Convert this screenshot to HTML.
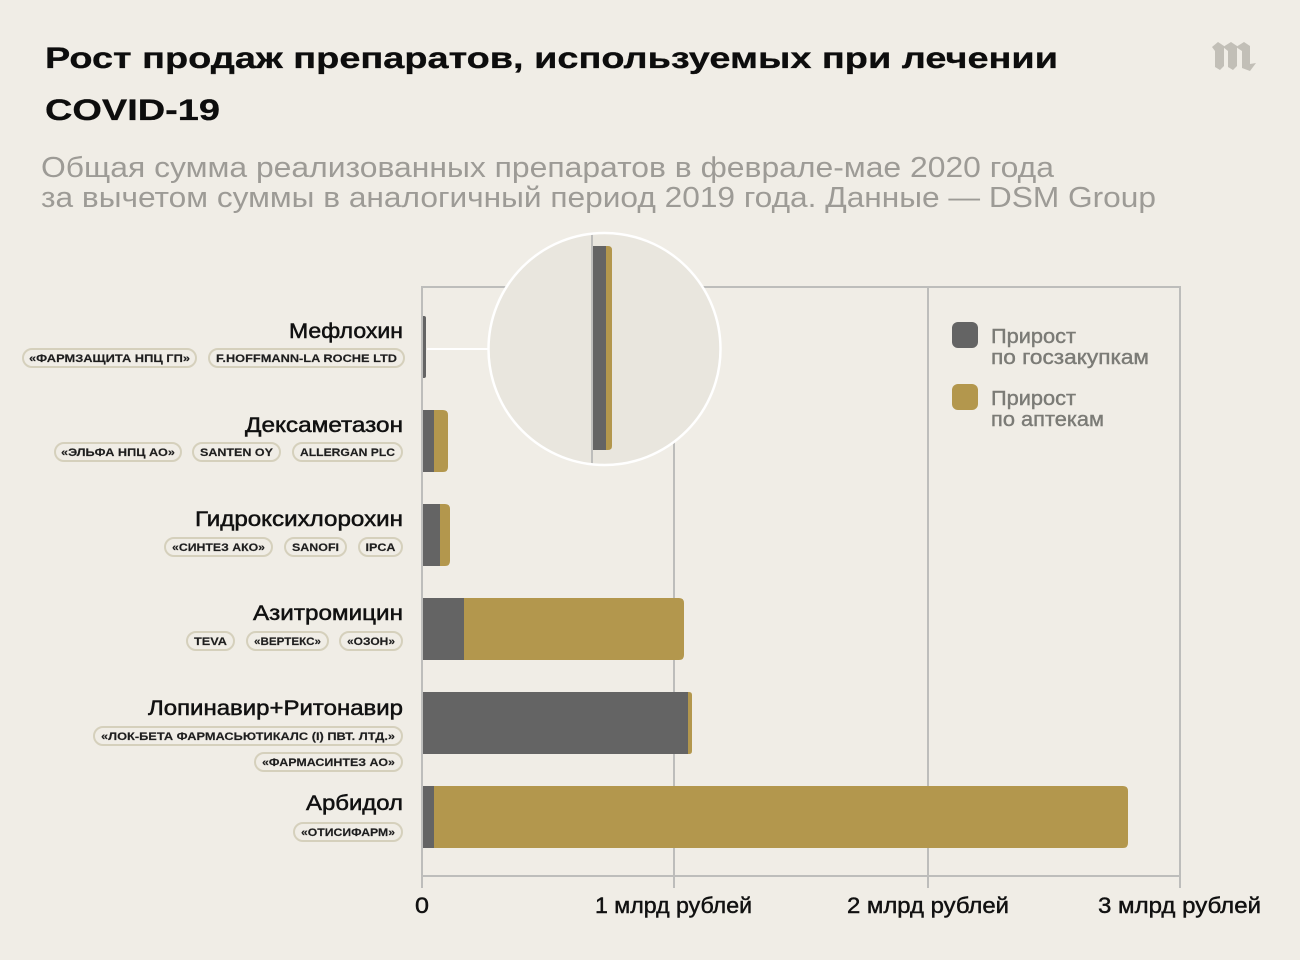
<!DOCTYPE html>
<html>
<head>
<meta charset="utf-8">
<style>
html,body{margin:0;padding:0;background:#f0ede6;}
svg{display:block;}
text{font-family:"Liberation Sans","DejaVu Sans",sans-serif;}
</style>
</head>
<body>
<svg width="1300" height="960" viewBox="0 0 1300 960" xmlns="http://www.w3.org/2000/svg">
<rect x="0" y="0" width="1300" height="960" fill="#f0ede6"/>

<!-- Title -->
<text x="45" y="68" font-size="30" font-weight="bold" fill="#0d0d0d" stroke="#0d0d0d" stroke-width="0.3" textLength="1013" lengthAdjust="spacingAndGlyphs">Рост продаж препаратов, используемых при лечении</text>
<text x="45" y="120" font-size="30" font-weight="bold" fill="#0d0d0d" stroke="#0d0d0d" stroke-width="0.3" textLength="175" lengthAdjust="spacingAndGlyphs">COVID-19</text>

<!-- Subtitle -->
<text x="41" y="177" font-size="29" fill="#9d9b96" textLength="1013" lengthAdjust="spacingAndGlyphs">Общая сумма реализованных препаратов в феврале-мае 2020 года</text>
<text x="41" y="207" font-size="29" fill="#9d9b96" textLength="1115" lengthAdjust="spacingAndGlyphs">за вычетом суммы в аналогичный период 2019 года. Данные — DSM Group</text>

<!-- Logo -->
<g fill="#c2bfb7">
  <polygon points="1212,47 1218,42 1224,46 1224,66 1220,70 1215,67 1215,51"/>
  <polygon points="1223,47 1231,42 1237,46 1237,66 1233,70 1228,67 1228,51"/>
  <polygon points="1236,47 1244,42 1250,46 1250,64 1256,63 1250,71 1242,68 1242,51"/>
</g>

<!-- Grid -->
<g stroke="#bdbdbb" stroke-width="2" fill="none">
  <line x1="421" y1="287" x2="1181" y2="287"/>
  <line x1="421" y1="876" x2="1181" y2="876"/>
  <line x1="422" y1="286" x2="422" y2="888"/>
  <line x1="674" y1="286" x2="674" y2="888"/>
  <line x1="928" y1="286" x2="928" y2="888"/>
  <line x1="1180" y1="286" x2="1180" y2="888"/>
</g>

<!-- Bars -->
<path d="M423,316 H424 Q426,316 426,318 V376 Q426,378 424,378 H423 Z" fill="#646464"/>
<rect x="423" y="410" width="11" height="62" fill="#646464"/>
<path d="M434,410 H443 Q448,410 448,415 V467 Q448,472 443,472 H434 Z" fill="#b3974d"/>
<rect x="423" y="504" width="17" height="62" fill="#646464"/>
<path d="M440,504 H445 Q450,504 450,509 V561 Q450,566 445,566 H440 Z" fill="#b3974d"/>
<rect x="423" y="598" width="41" height="62" fill="#646464"/>
<path d="M464,598 H679 Q684,598 684,603 V655 Q684,660 679,660 H464 Z" fill="#b3974d"/>
<rect x="423" y="692" width="265" height="62" fill="#646464"/>
<path d="M688,692 H689 Q692,692 692,695 V751 Q692,754 689,754 H688 Z" fill="#b3974d"/>
<rect x="423" y="786" width="11" height="62" fill="#646464"/>
<path d="M434,786 H1123 Q1128,786 1128,791 V843 Q1128,848 1123,848 H434 Z" fill="#b3974d"/>

<!-- Magnifier -->
<line x1="427" y1="349" x2="490" y2="349" stroke="#ffffff" stroke-width="2"/>
<defs>
  <clipPath id="mag"><circle cx="604.5" cy="349" r="116"/></clipPath>
</defs>
<circle cx="604.5" cy="349" r="116" fill="#e9e6de"/>
<g clip-path="url(#mag)">
  <line x1="592" y1="230" x2="592" y2="470" stroke="#bdbdbb" stroke-width="2"/>
  <rect x="593" y="246" width="13" height="204" fill="#646464"/>
  <path d="M606,246 H608 Q612,246 612,250 V446 Q612,450 608,450 H606 Z" fill="#b3974d"/>
</g>
<circle cx="604.5" cy="349" r="116" fill="none" stroke="#ffffff" stroke-width="2.5"/>

<!-- Drug names -->
<g font-size="21" fill="#111" stroke="#111" stroke-width="0.5" text-anchor="end">
  <text x="403" y="338" textLength="114" lengthAdjust="spacingAndGlyphs">Мефлохин</text>
  <text x="403" y="432" textLength="158" lengthAdjust="spacingAndGlyphs">Дексаметазон</text>
  <text x="403" y="526" textLength="208" lengthAdjust="spacingAndGlyphs">Гидроксихлорохин</text>
  <text x="403" y="620" textLength="150" lengthAdjust="spacingAndGlyphs">Азитромицин</text>
  <text x="403" y="715" textLength="255" lengthAdjust="spacingAndGlyphs">Лопинавир+Ритонавир</text>
  <text x="403" y="810" textLength="97" lengthAdjust="spacingAndGlyphs">Арбидол</text>
</g>

<!-- Tags -->
<g fill="none" stroke="#d5d0bc" stroke-width="2">
  <rect x="23" y="349" width="173" height="18" rx="9"/>
  <rect x="209" y="349" width="195" height="18" rx="9"/>
  <rect x="55" y="443" width="126" height="18" rx="9"/>
  <rect x="193" y="443" width="87" height="18" rx="9"/>
  <rect x="293" y="443" width="109" height="18" rx="9"/>
  <rect x="165" y="538" width="107" height="18" rx="9"/>
  <rect x="285" y="538" width="61" height="18" rx="9"/>
  <rect x="359" y="538" width="43" height="18" rx="9"/>
  <rect x="187" y="632" width="47" height="18" rx="9"/>
  <rect x="247" y="632" width="81" height="18" rx="9"/>
  <rect x="340" y="632" width="62" height="18" rx="9"/>
  <rect x="94" y="727" width="308" height="18" rx="9"/>
  <rect x="255" y="753" width="147" height="18" rx="9"/>
  <rect x="294" y="823" width="108" height="18" rx="9"/>
</g>
<g font-size="11" font-weight="bold" fill="#1e1e1e" stroke="#1e1e1e" stroke-width="0.15" text-anchor="middle">
  <text x="109.5" y="362" textLength="161" lengthAdjust="spacingAndGlyphs">«ФАРМЗАЩИТА НПЦ ГП»</text>
  <text x="306.5" y="362" textLength="181" lengthAdjust="spacingAndGlyphs">F.HOFFMANN-LA ROCHE LTD</text>
  <text x="118" y="456" textLength="114" lengthAdjust="spacingAndGlyphs">«ЭЛЬФА НПЦ АО»</text>
  <text x="236.5" y="456" textLength="73" lengthAdjust="spacingAndGlyphs">SANTEN OY</text>
  <text x="347.5" y="456" textLength="95" lengthAdjust="spacingAndGlyphs">ALLERGAN PLC</text>
  <text x="218.5" y="551" textLength="93" lengthAdjust="spacingAndGlyphs">«СИНТЕЗ АКО»</text>
  <text x="315.5" y="551" textLength="47" lengthAdjust="spacingAndGlyphs">SANOFI</text>
  <text x="380.5" y="551" textLength="30" lengthAdjust="spacingAndGlyphs">IPCA</text>
  <text x="210.5" y="645" textLength="33" lengthAdjust="spacingAndGlyphs">TEVA</text>
  <text x="287.5" y="645" textLength="67" lengthAdjust="spacingAndGlyphs">«ВЕРТЕКС»</text>
  <text x="371" y="645" textLength="48" lengthAdjust="spacingAndGlyphs">«ОЗОН»</text>
  <text x="248" y="740" textLength="294" lengthAdjust="spacingAndGlyphs">«ЛОК-БЕТА ФАРМАСЬЮТИКАЛС (I) ПВТ. ЛТД.»</text>
  <text x="328.5" y="766" textLength="133" lengthAdjust="spacingAndGlyphs">«ФАРМАСИНТЕЗ АО»</text>
  <text x="348" y="836" textLength="94" lengthAdjust="spacingAndGlyphs">«ОТИСИФАРМ»</text>
</g>

<!-- Legend -->
<rect x="952" y="322" width="26" height="26" rx="6" fill="#646464"/>
<rect x="952" y="384" width="26" height="26" rx="6" fill="#b3974d"/>
<g font-size="20" fill="#7b7b76" stroke="#7b7b76" stroke-width="0.4">
  <text x="991" y="343" textLength="85" lengthAdjust="spacingAndGlyphs">Прирост</text>
  <text x="991" y="364" textLength="158" lengthAdjust="spacingAndGlyphs">по госзакупкам</text>
  <text x="991" y="405" textLength="85" lengthAdjust="spacingAndGlyphs">Прирост</text>
  <text x="991" y="426" textLength="113" lengthAdjust="spacingAndGlyphs">по аптекам</text>
</g>

<!-- Tick labels -->
<g font-size="22" fill="#111" stroke="#111" stroke-width="0.45" text-anchor="middle">
  <text x="422" y="913" textLength="14" lengthAdjust="spacingAndGlyphs">0</text>
  <text x="673.5" y="913" textLength="157" lengthAdjust="spacingAndGlyphs">1 млрд рублей</text>
  <text x="928" y="913" textLength="162" lengthAdjust="spacingAndGlyphs">2 млрд рублей</text>
  <text x="1179.5" y="913" textLength="163" lengthAdjust="spacingAndGlyphs">3 млрд рублей</text>
</g>
</svg>
</body>
</html>
